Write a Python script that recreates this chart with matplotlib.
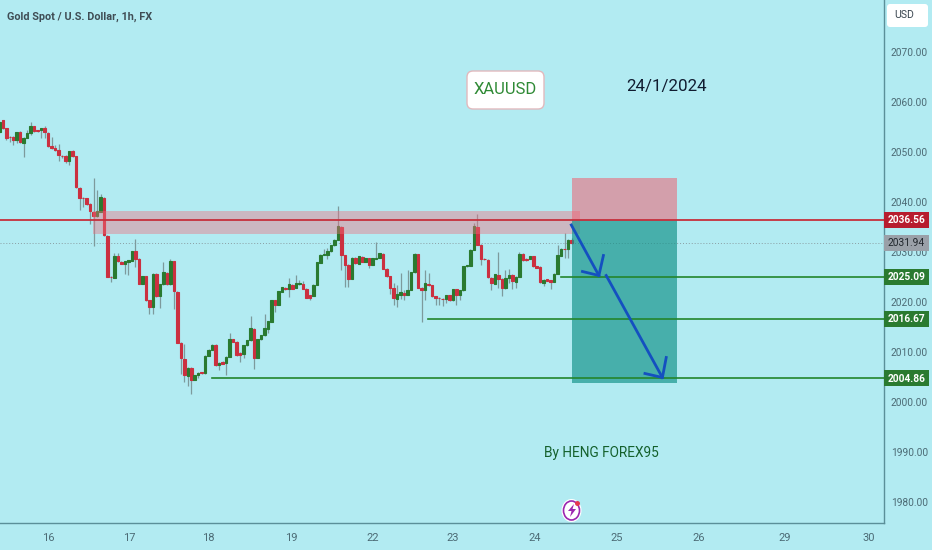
import numpy as np
import matplotlib
matplotlib.use("Agg")
import matplotlib.pyplot as plt
from matplotlib.patches import Rectangle, FancyBboxPatch, Ellipse, Polygon
from matplotlib.transforms import Affine2D

# velas 1h
opens = [2054.2,2056.5,2054.9,2053.2,2053.2,2052.5,2054.1,2052.0,2053.0,2053.8,2055.3,2054.5,2054.5,2054.8,2054.0,2051.3,2050.8,2050.5,
         2049.4,2049.4,2048.3,2050.3,2049.3,2043.0,2041.0,2040.9,2039.8,2038.2,2037.3,2038.2,2041.0,2033.4,2025.2,2025.0,2029.3,2028.2,
         2027.8,2028.1,2028.4,2030.3,2028.8,2023.8,2025.3,2020.5,2019.2,2025.8,2021.3,2023.7,2026.0,2023.7,2028.3,2022.2,2012.0,2008.8,
         2005.4,2007.0,2004.6,2005.5,2006.1,2005.9,2009.4,2010.6,2011.6,2007.5,2008.2,2008.0,2009.2,2012.7,2012.2,2010.0,2009.8,2011.5,
         2012.5,2014.8,2009.0,2012.7,2013.5,2014.8,2016.2,2020.5,2019.6,2022.2,2023.0,2022.8,2023.6,2023.0,2023.7,2023.8,2022.8,2021.5,
         2021.4,2023.6,2028.0,2029.6,2029.6,2030.3,2031.5,2032.6,2035.2,2029.5,2027.6,2024.8,2029.0,2027.8,2029.2,2028.2,2028.9,2027.6,
         2028.8,2029.0,2029.8,2026.8,2025.3,2023.0,2020.8,2021.6,2022.0,2021.6,2022.6,2026.1,2029.7,2023.0,2022.5,2023.8,2023.5,2021.3,
         2021.0,2020.8,2020.7,2021.5,2020.5,2022.7,2021.5,2022.5,2027.3,2027.4,2030.6,2035.2,2031.6,2028.8,2028.6,2025.0,2023.8,2025.6,
         2024.8,2022.9,2024.9,2025.6,2024.2,2025.2,2029.8,2028.8,2028.8,2029.3,2027.3,2027.2,2024.0,2024.7,2024.5,2024.2,2025.8,2029.4,
         2030.8,2030.7,2032.6]
closes = [2056.0,2054.9,2053.0,2053.0,2052.5,2054.1,2052.0,2053.0,2053.8,2055.3,2054.3,2054.3,2054.8,2054.0,2051.3,2050.8,2050.5,2049.4,
          2049.3,2048.3,2050.3,2049.3,2043.0,2041.0,2040.9,2039.8,2038.2,2037.3,2038.2,2041.0,2033.4,2025.2,2025.0,2029.3,2028.2,2027.8,
          2028.2,2028.4,2030.3,2028.8,2023.8,2025.3,2020.5,2019.2,2025.8,2021.3,2023.7,2026.0,2023.7,2028.3,2022.2,2012.0,2008.8,2005.4,
          2007.0,2004.6,2005.5,2006.0,2005.9,2009.4,2010.6,2011.6,2007.5,2008.0,2007.8,2009.2,2012.7,2012.2,2009.5,2009.5,2011.5,2012.5,
          2014.8,2009.0,2012.7,2013.5,2014.8,2016.2,2020.5,2019.6,2022.3,2023.0,2022.7,2023.6,2022.8,2023.8,2023.9,2022.8,2021.0,2021.0,
          2023.6,2028.0,2029.6,2029.8,2030.3,2031.5,2032.6,2035.2,2029.5,2027.6,2024.8,2029.0,2027.8,2029.2,2028.2,2028.9,2027.6,2028.9,
          2029.0,2029.8,2026.8,2025.3,2023.0,2020.8,2021.6,2022.0,2021.6,2022.6,2026.1,2029.7,2023.0,2022.5,2023.8,2023.5,2021.3,2021.0,
          2020.8,2020.7,2021.5,2020.5,2022.7,2021.5,2022.5,2027.3,2027.5,2030.6,2035.2,2031.6,2028.8,2028.6,2025.0,2023.8,2025.6,2024.8,
          2022.9,2024.9,2025.6,2024.2,2025.2,2029.8,2028.5,2028.5,2029.3,2027.2,2027.0,2024.0,2024.6,2024.4,2024.2,2025.8,2029.4,2030.8,
          2030.7,2032.6,2031.9]
highs = [2056.4,2056.6,2055.0,2053.3,2053.3,2054.2,2054.3,2053.1,2054.6,2056.2,2055.4,2054.6,2054.9,2055.3,2054.1,2053.2,2051.5,2051.7,
         2049.5,2049.5,2050.4,2050.5,2049.4,2043.1,2041.1,2041.0,2039.9,2045.0,2042.5,2041.8,2041.1,2033.5,2025.3,2030.0,2029.9,2028.3,
         2028.3,2028.5,2030.4,2032.8,2028.9,2025.4,2025.4,2020.6,2025.9,2025.9,2023.8,2028.2,2026.1,2028.7,2028.4,2022.3,2012.1,2011.8,
         2007.1,2007.1,2005.6,2006.1,2006.2,2009.5,2010.7,2011.7,2011.7,2008.1,2008.3,2009.3,2014.0,2012.8,2012.3,2010.1,2011.6,2012.6,
         2017.3,2014.9,2012.8,2013.6,2017.8,2016.3,2020.6,2020.6,2022.4,2023.1,2023.1,2025.0,2023.7,2025.5,2024.5,2024.3,2022.9,2021.6,
         2023.7,2028.1,2029.7,2030.8,2031.0,2031.6,2032.7,2039.3,2035.3,2029.6,2027.7,2029.1,2029.1,2029.3,2029.4,2029.0,2029.0,2029.0,
         2032.2,2029.9,2029.9,2026.9,2025.4,2024.0,2023.5,2026.0,2022.5,2026.5,2026.2,2030.0,2029.8,2023.1,2026.5,2025.9,2023.6,2021.4,
         2021.1,2020.9,2021.6,2021.6,2022.8,2022.8,2022.6,2027.4,2027.6,2030.7,2036.0,2037.7,2031.7,2028.9,2028.7,2025.1,2025.7,2030.2,
         2024.9,2026.5,2026.8,2025.7,2025.3,2030.2,2029.9,2029.0,2029.4,2029.4,2027.4,2027.3,2024.7,2024.8,2024.6,2025.9,2031.5,2030.9,
         2034.0,2032.7,2033.0]
lows = [2053.8,2054.7,2052.6,2052.2,2051.5,2051.8,2051.8,2049.2,2052.8,2053.6,2054.1,2054.2,2052.8,2052.8,2051.2,2050.7,2050.4,2048.4,
        2049.0,2048.0,2047.5,2049.2,2042.9,2038.5,2039.2,2039.6,2035.7,2031.3,2037.2,2038.1,2033.3,2025.1,2024.2,2024.9,2028.1,2027.7,
        2025.8,2025.5,2028.3,2027.2,2023.7,2023.7,2020.4,2017.8,2017.8,2021.2,2019.0,2023.6,2023.6,2023.6,2018.7,2011.9,2005.8,2004.2,
        2003.3,2001.8,2004.5,2005.0,2005.8,2005.8,2009.3,2010.5,2007.4,2006.5,2007.7,2005.5,2009.1,2012.1,2009.4,2008.2,2009.0,2011.4,
        2012.4,2006.8,2008.9,2012.6,2013.4,2014.0,2016.1,2018.2,2019.5,2022.1,2022.6,2021.2,2022.7,2022.9,2023.6,2022.7,2020.9,2020.5,
        2021.3,2023.5,2027.9,2029.5,2028.8,2030.2,2031.4,2032.5,2026.5,2023.2,2023.2,2024.7,2027.7,2027.7,2028.1,2028.1,2027.0,2027.5,
        2028.7,2028.9,2026.7,2025.2,2021.8,2019.5,2019.2,2020.8,2020.5,2021.5,2022.5,2026.0,2022.9,2016.2,2020.5,2023.4,2021.2,2019.6,
        2019.5,2019.4,2020.0,2020.4,2020.4,2019.5,2020.5,2022.4,2027.2,2027.3,2030.5,2031.5,2027.6,2028.5,2024.9,2022.5,2023.7,2023.0,
        2021.4,2022.8,2024.0,2022.8,2023.0,2025.1,2028.4,2028.4,2028.7,2027.1,2026.9,2023.9,2023.4,2024.3,2022.8,2024.1,2025.7,2029.3,
        2029.0,2029.0,2031.8]

price_ticks = [1980, 1990, 2000, 2010, 2020, 2030, 2040, 2050, 2060, 2070]
day_pos = [14, 37.2, 60, 83.6, 107, 130, 153.5, 177, 200.5, 225, 249]
day_labels = ["16", "17", "18", "19", "22", "23", "24", "25", "26", "29", "30"]

resistance = 2036.56
last_price = 2031.94
targets = [2025.09, 2016.67, 2004.86]
target_start = [160.9, 122.8, 60.9]

BG = "#b2ebf2"
UP = "#2a7a30"
DOWN = "#cb3040"
GRIS = "#4c6b75"
FONT = "Roboto"

fig = plt.figure(figsize=(9.32, 5.5), dpi=100, facecolor=BG)
ax = fig.add_axes([0, 27 / 550, 884 / 932, 523 / 550], facecolor=BG)
px = Affine2D().scale(1, -1).translate(0, 550)

ax.set_xlim(0.2, 253.5)
ax.set_ylim(1975.9, 2080.5)

# velas
x = np.arange(len(opens))
o = np.array(opens)
c = np.array(closes)
col = [UP if b >= a else DOWN for a, b in zip(o, c)]
ax.vlines(x, lows, highs, color="#7d9a9c", lw=0.9, zorder=2)
ax.bar(x, c - o, bottom=o, width=0.72, color=col, edgecolor=col, lw=0.8, zorder=3)

# zona de resistencia
ax.add_patch(Rectangle((26.8, 2033.7), 139.6, 4.6, fc="#ef6f7e", ec="none", alpha=0.42, zorder=4))

# caja de la operacion
ax.add_patch(Rectangle((164, resistance), 30.2, 8.44, fc="#f2596b", ec="none", alpha=0.52, zorder=4))
ax.add_patch(Rectangle((164, 2004.0), 30.2, 32.56, fc="#14938a", ec="none", alpha=0.68, zorder=4))

# lineas
ax.axhline(last_price, color="#8a9ea3", lw=0.7, ls=(0, (1, 2)), zorder=1)
ax.axhline(resistance, color="#c62f3c", lw=1.3, zorder=5)
for lvl, st in zip(targets, target_start):
    ax.plot([st, 253.5], [lvl, lvl], color="#23852c", lw=1.2, zorder=5)

# flechas
azul = "#1450c0"
ax.plot([163.9, 171.8], [2035.5, 2025.4], color=azul, lw=2, zorder=6)
ax.plot([167.1, 171.8, 173.1], [2026.2, 2025.4, 2029.4], color=azul, lw=2, zorder=6)
ax.plot([173.9, 190.0], [2025.4, 2005.0], color=azul, lw=2, zorder=6)
ax.plot([185.0, 190.0, 191.1], [2005.8, 2005.0, 2009.0], color=azul, lw=2, zorder=6)

# ejes
for s in ["top", "left"]:
    ax.spines[s].set_visible(False)
for s in ["right", "bottom"]:
    ax.spines[s].set_color("#5b8f99")
    ax.spines[s].set_linewidth(1)
ax.yaxis.tick_right()
ax.set_yticks(price_ticks)
ax.set_yticklabels(["%.2f" % v for v in price_ticks], family=FONT, fontsize=7.3, color=GRIS)
ax.set_xticks(day_pos)
ax.set_xticklabels(day_labels, family=FONT, fontsize=8, color=GRIS)
ax.tick_params(length=0, axis="y", pad=5)
ax.tick_params(length=0, axis="x", pad=7)

# etiquetas de precio
def tag(price, fc, tc):
    y = 52.5 + (2070 - price) * 5
    fig.add_artist(Rectangle((884, y - 8), 44.5, 16, fc=fc, ec="none", transform=px, zorder=10))
    fig.text(906.5, y + 0.3, "%.2f" % price, transform=px, ha="center", va="center", family=FONT,
             fontsize=7.3, color=tc, zorder=11, fontweight="bold" if tc == "white" else "normal")

tag(resistance, "#b71c2e", "white")
tag(last_price, "#9aa0a8", "#20262c")
for lvl in targets:
    tag(lvl, UP, "white")

# textos
fig.text(7, 16.5, "Gold Spot / U.S. Dollar, 1h, FX", transform=px, va="center", family=FONT,
         fontsize=7.8, fontweight="bold", color="#3f4d55")
fig.add_artist(FancyBboxPatch((887, 4), 41, 23, boxstyle="round,pad=0,rounding_size=3", fc="white", ec="none", transform=px))
fig.text(894, 15.5, "USD", transform=px, va="center", family=FONT, fontsize=7.6, color="#3a4650")

fig.add_artist(FancyBboxPatch((467, 71), 77, 38, boxstyle="round,pad=0,rounding_size=6", fc="white", ec="#e2b9bd", lw=1, transform=px))
fig.text(505.5, 89, "XAUUSD", transform=px, ha="center", va="center", family=FONT, fontsize=12, color="#2f8a35")
fig.text(667, 87, "24/1/2024", transform=px, ha="center", va="center", family=FONT, fontsize=12.2, color="#101c30")
fig.text(601, 452.5, "By HENG FOREX95", transform=px, ha="center", va="center", family=FONT, fontsize=9.8, color="#14602c")

# logo
fig.add_artist(Ellipse((571.5, 510.5), 20, 23, fc="white", ec="none", transform=px, zorder=8))
fig.add_artist(Ellipse((571.5, 510.5), 16, 19, fc="white", ec="#9c27b0", lw=1.2, transform=px, zorder=9))
fig.add_artist(Polygon([(574, 504), (568, 511), (571.5, 511), (570, 517), (576, 509), (572.5, 509)], fc="#9c27b0", ec="none", transform=px, zorder=10))
fig.add_artist(Ellipse((577.5, 503.5), 5, 5, fc="#e53950", ec="none", transform=px, zorder=11))

fig.savefig("out.png", dpi=100, facecolor=BG)
